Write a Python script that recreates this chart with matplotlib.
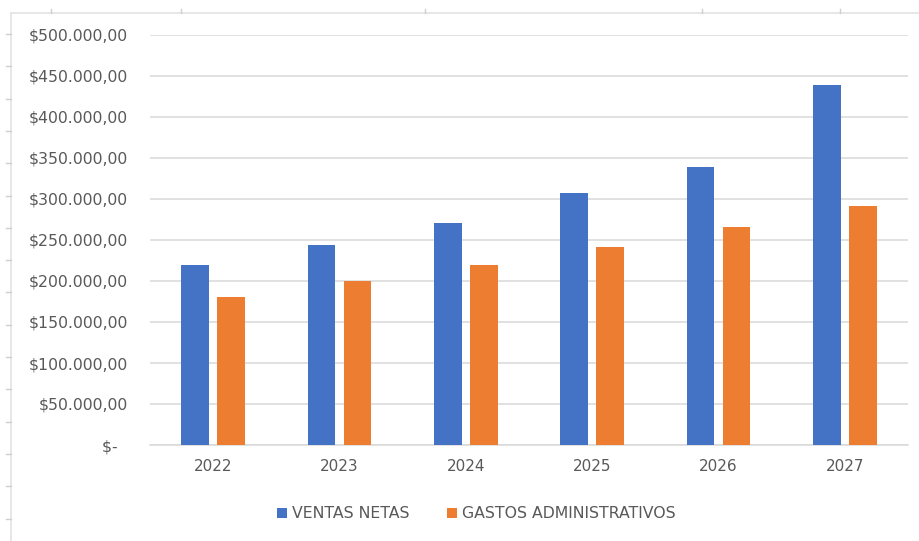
import matplotlib
matplotlib.use("Agg")
import matplotlib.pyplot as plt
from matplotlib.lines import Line2D
from matplotlib.ticker import FixedLocator, FixedFormatter
import numpy as np

# Data
years = ["2022", "2023", "2024", "2025", "2026", "2027"]
ventas_netas = [220000, 244200, 271100, 307000, 339000, 439000]
gastos_admin = [180000, 199800, 219800, 241000, 265500, 292000]
y_ticks = [0, 50000, 100000, 150000, 200000, 250000, 300000, 350000, 400000, 450000, 500000]
y_tick_labels = ["$-  ", "$50.000,00", "$100.000,00", "$150.000,00", "$200.000,00",
                 "$250.000,00", "$300.000,00", "$350.000,00", "$400.000,00",
                 "$450.000,00", "$500.000,00"]
series_names = ["VENTAS NETAS", "GASTOS ADMINISTRATIVOS"]

BLUE = "#4472C4"
ORANGE = "#ED7D31"
TEXT = "#595959"
GRID = "#D9D9D9"

plt.rcParams["font.family"] = ["DejaVu Sans"]

fig = plt.figure(figsize=(9.2, 5.41), dpi=100)
W, H = 920, 541

# surrounding sheet frame with cell ticks
fig.add_artist(Line2D([11 / W, 1.0], [1 - 13 / H, 1 - 13 / H], transform=fig.transFigure,
                      color="#E3E3E3", lw=1.2))
fig.add_artist(Line2D([11 / W, 11 / W], [0, 1 - 13 / H], transform=fig.transFigure,
                      color="#E3E3E3", lw=1.2))
for xt in [51, 181, 425, 702, 840]:
    fig.add_artist(Line2D([xt / W, xt / W], [1 - 9 / H, 1 - 13 / H], transform=fig.transFigure,
                          color="#D0D0D0", lw=1))
for yt in np.arange(34, 541, 32.3):
    fig.add_artist(Line2D([6 / W, 11 / W], [1 - yt / H, 1 - yt / H], transform=fig.transFigure,
                          color="#D0D0D0", lw=1))

ax = fig.add_axes([150 / W, 1 - 445 / H, (908 - 150) / W, (445 - 35) / H])

x = np.arange(len(years))
width = 0.22
offset = 0.143
ax.bar(x - offset, ventas_netas, width, color=BLUE, label=series_names[0], zorder=3)
ax.bar(x + offset, gastos_admin, width, color=ORANGE, label=series_names[1], zorder=3)

ax.set_xlim(-0.5, len(years) - 0.5)
ax.set_ylim(0, 500000)
ax.yaxis.set_major_locator(FixedLocator(y_ticks))
ax.yaxis.set_major_formatter(FixedFormatter(y_tick_labels))
ax.set_xticks(x)
ax.set_xticklabels(years)

ax.grid(axis="y", color=GRID, lw=1.1, zorder=0)
for s in ["top", "right", "left"]:
    ax.spines[s].set_visible(False)
ax.spines["bottom"].set_color(GRID)
ax.spines["bottom"].set_linewidth(1.1)
ax.tick_params(axis="y", length=0, colors=TEXT, labelsize=11.3, pad=16)
ax.tick_params(axis="x", length=0, colors=TEXT, labelsize=11, pad=10)

fig.legend(loc="center", bbox_to_anchor=(476 / W, 1 - 514 / H), ncol=2, frameon=False,
           fontsize=11.3, labelcolor=TEXT, handlelength=0.65, handleheight=0.65,
           handletextpad=0.3, columnspacing=2.4)

fig.savefig("out.png", dpi=100, facecolor="white")
